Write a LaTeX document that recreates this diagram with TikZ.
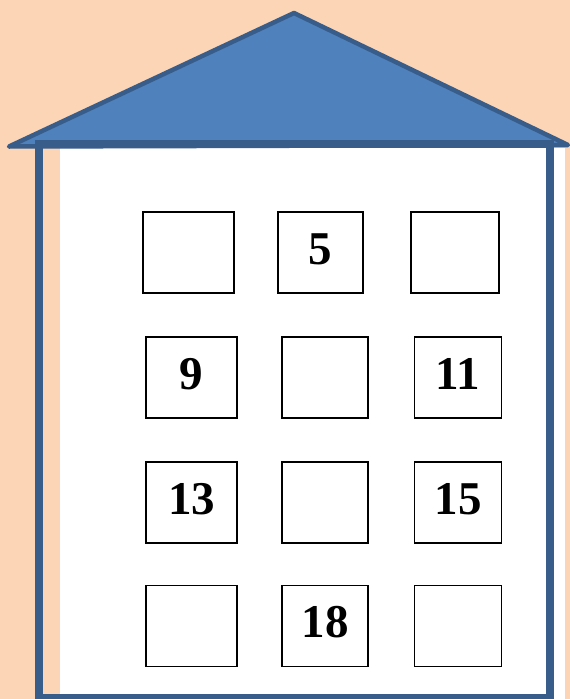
\documentclass[tikz,border=0pt]{standalone}
\usepackage{fontspec}
\setmainfont{Liberation Serif}
\usepackage{tikz}
\definecolor{peachbg}{RGB}{251,213,181}
\definecolor{rooffill}{RGB}{79,129,189}
\definecolor{roofline}{RGB}{56,93,138}
\tikzset{
  windowbox/.style={draw=black,line width=1.3pt,fill=white,minimum height=81pt,
    inner sep=0pt,text height=32pt,text depth=9pt,
    font=\fontsize{47}{47}\selectfont\bfseries},
}
\newcommand{\housewindow}[5]{%
  \node[windowbox,minimum width=#4pt] (#1) at (#2,#3) {#5};%
}

\begin{document}
\begin{tikzpicture}[x=1pt,y=-1pt]
  \fill[peachbg] (0,0) rectangle (570,699);
  \useasboundingbox (0,0) rectangle (570,699);
  % inside of the house
  \fill[white] (60,148) rectangle (565,699);
  % roof
  \draw[roofline,fill=rooffill,line width=4.5pt,line join=round] (9,146.5) -- (294,13) -- (568,145) -- cycle;
  % walls
  \draw[roofline,line width=8pt] (39,143.5) rectangle (549.5,698);
  % windows
  \housewindow{wa}{188.5}{252.5}{91}{}
  \housewindow{wb}{320.5}{252.5}{85}{5}
  \housewindow{wc}{455}{252.5}{88}{}
  \housewindow{wd}{191.5}{377.5}{91}{9}
  \housewindow{we}{325}{377.5}{86}{}
  \housewindow{wf}{458}{377.5}{87}{11}
  \housewindow{wg}{191.5}{502.5}{91}{13}
  \housewindow{wh}{325}{502.5}{86}{}
  \housewindow{wi}{458}{502.5}{87}{15}
  \housewindow{wj}{191.5}{626}{91}{}
  \housewindow{wk}{325}{626}{86}{18}
  \housewindow{wl}{458}{626}{87}{}
\end{tikzpicture}
\end{document}
